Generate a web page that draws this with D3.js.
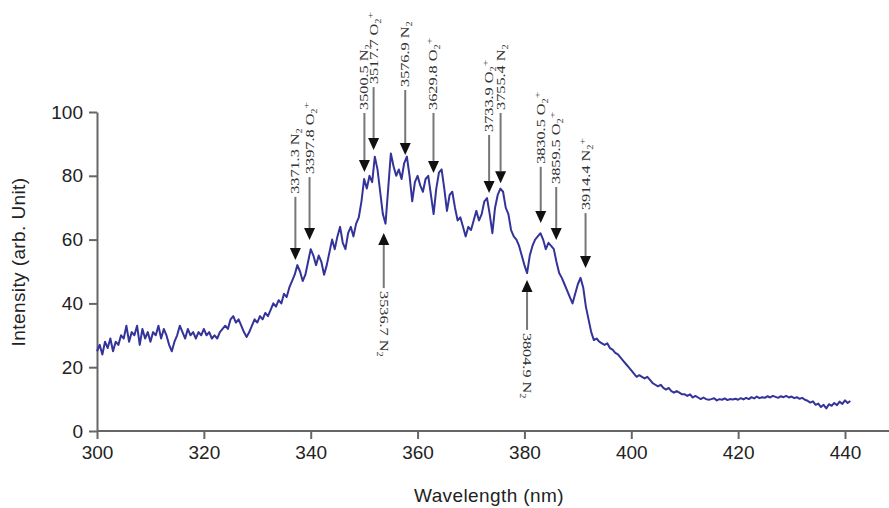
<!DOCTYPE html>
<html>
<head>
<meta charset="utf-8">
<script src="https://cdn.jsdelivr.net/npm/d3@7"></script>
<style>
  body { margin: 0; background: #fff; }
  .axis text { font-family: "Liberation Sans", Arial, sans-serif; font-size: 19px; fill: #222; }
  .axis line, .axis path { stroke: #666; stroke-width: 2; }
  .title { font-family: "Liberation Sans", Arial, sans-serif; font-size: 19px; fill: #222; letter-spacing: 0.4px; }
  .lbl { font-family: "Liberation Serif", "Times New Roman", serif; font-size: 12.5px; fill: #333; }
</style>
</head>
<body>
<div id="chart"></div>
<script>
// wavelength in nm, one value every 0.5 nm from 300 to 441
var wlStart = 300, wlStep = 0.5;
var intensity = [
  25, 27, 24, 28, 26, 29, 25, 28, 27, 30,
  29, 33, 28, 31, 30, 33, 27, 32, 29, 31,
  28, 31, 30, 33, 29, 32, 30, 27, 25, 28,
  30, 33, 31, 29, 32, 30, 31, 29, 31, 30,
  32, 30, 31, 29, 30, 29, 31, 32, 33, 32,
  35, 36, 34, 35, 33, 31, 29.5, 31, 33, 35,
  34, 36, 35, 37, 36, 38, 40, 39, 41, 40,
  43, 42, 45, 47, 49, 52, 50, 47, 49, 53,
  57, 55, 52, 55, 53, 49, 52, 56, 60, 57,
  61, 64, 59, 57, 62, 64, 61, 65, 67, 72,
  79, 76, 80, 78, 86, 82, 75, 68, 65, 76,
  87, 83, 80, 82, 79, 84, 86, 80, 72, 78,
  80, 77, 75, 79, 80, 74, 68, 76, 81, 82,
  76, 69, 74, 75, 70, 66, 67, 64, 61, 64,
  63, 66, 69, 66, 68, 72, 73, 68, 62, 70,
  74, 76, 75, 70, 68, 63, 61, 60, 58, 55,
  52, 49.5, 55, 58, 60, 61, 62, 60, 57, 59,
  58, 57, 53, 49.5, 48, 46, 44, 42, 40, 43,
  46, 48, 45, 39, 35, 31, 28.5, 29, 28, 27.5,
  27, 27.5, 26, 25.5, 24.5, 24, 23, 22, 21, 20,
  19, 18, 17, 17.5, 17, 16.5, 17, 16, 15, 14.5,
  14, 14.5, 13.5, 13, 13.5, 12.5, 12, 12.5, 12, 11.5,
  11.5, 11, 11.5, 10.5, 11, 10.5, 10, 10.5, 10, 9.8,
  10, 10.3, 9.6, 10, 9.8, 10.2, 9.7, 10, 9.9, 10.1,
  9.8, 10.3, 9.9, 10.4, 10, 10.6, 10.2, 10.8, 10.3, 10.6,
  10.4, 10.9, 10.5, 11, 10.7, 10.4, 10.9, 10.6, 11, 10.5,
  10.8, 10.3, 10.6, 10.1, 10.4, 9.8, 9.5, 8.9, 9.3, 8.2,
  8.6, 7.5, 8.2, 7.1, 8.4, 7.9, 8.8, 8.1, 9.2, 8.5,
  9.6, 8.8, 9.4
];
var xTicks = [300, 320, 340, 360, 380, 400, 420, 440];
var yTicks = [0, 20, 40, 60, 80, 100];

// line identifications: wavelength (Angstrom), species, arrow tip and tail (intensity)
var lineWl   = [3371.3, 3397.8, 3500.5, 3517.7, 3576.9, 3629.8, 3536.7, 3733.9, 3755.4, 3830.5, 3859.5, 3914.4, 3804.9];
var lineSp   = ["N2", "O2+", "N2", "O2+", "N2", "O2+", "N2", "O2+", "N2", "O2+", "O2+", "N2+", "N2"];
var lineTip  = [53.6, 59.9, 81.2, 88.1, 86.5, 80.9, 62.1, 74.6, 77.7, 65.2, 59.9, 51.1, 47.3];
var lineTail = [73.4, 79.6, 99.7, 107.8, 106.9, 99.7, 44.8, 92.8, 99.7, 82.8, 76.5, 68.3, 31.7];

var W = 889, H = 508;

var x = d3.scaleLinear().domain([300, 440]).range([97, 845]);
var y = d3.scaleLinear().domain([0, 100]).range([431, 112]);

var svg = d3.select("#chart").append("svg")
    .attr("width", W)
    .attr("height", H);

var data = intensity.map(function(v, i) {
  return {w: wlStart + i * wlStep, v: v};
});

// x axis
var gx = svg.append("g")
    .attr("class", "axis")
    .attr("transform", "translate(0," + y(0) + ")")
    .call(d3.axisBottom(x).tickValues(xTicks).tickSize(8).tickSizeOuter(0).tickPadding(7));
gx.select(".domain").remove();
gx.append("line")
    .attr("x1", x(300)).attr("x2", W)
    .attr("y1", 0).attr("y2", 0);

// y axis
var gy = svg.append("g")
    .attr("class", "axis")
    .attr("transform", "translate(" + x(300) + ",0)")
    .call(d3.axisLeft(y).tickValues(yTicks).tickSize(8).tickSizeOuter(0).tickPadding(6));

svg.append("text")
    .attr("class", "title")
    .attr("x", 489).attr("y", 502)
    .attr("text-anchor", "middle")
    .text("Wavelength (nm)");

svg.append("text")
    .attr("class", "title")
    .attr("transform", "translate(25," + y(53) + ") rotate(-90)")
    .attr("text-anchor", "middle")
    .text("Intensity (arb. Unit)");

// spectrum
var line = d3.line()
    .x(function(d) { return x(d.w); })
    .y(function(d) { return y(d.v); });

svg.append("path")
    .datum(data)
    .attr("fill", "none")
    .attr("stroke", "#33339a")
    .attr("stroke-width", 2)
    .attr("stroke-linejoin", "round")
    .attr("d", line);

// arrows + labels
lineWl.forEach(function(wl, i) {
  var px = x(wl / 10),
      tip = y(lineTip[i]),
      tail = y(lineTail[i]),
      down = lineTail[i] > lineTip[i],
      dir = down ? 1 : -1,
      head = 12;

  svg.append("line")
    .attr("x1", px).attr("x2", px)
    .attr("y1", tail).attr("y2", tip - dir * head)
    .attr("stroke", "#777")
    .attr("stroke-width", 2);

  svg.append("path")
    .attr("d", "M" + (px - 5.5) + "," + (tip - dir * head) +
               "L" + (px + 5.5) + "," + (tip - dir * head) +
               "L" + px + "," + tip + "Z")
    .attr("fill", "#111");

  var t = svg.append("text")
    .attr("class", "lbl")
    .attr("text-anchor", "start");
  if (down) {
    t.attr("transform", "translate(" + (px + 4) + "," + (tail - 3) + ") rotate(-90) scale(1.3,1)");
  } else {
    t.attr("transform", "translate(" + (px - 4) + "," + (tail + 3) + ") rotate(90) scale(1.3,1)");
  }

  var sp = lineSp[i];
  t.append("tspan").text(wl.toFixed(1) + " " + sp.charAt(0));
  t.append("tspan").attr("dy", 3).attr("font-size", "8px").text("2");
  if (sp.indexOf("+") >= 0) {
    t.append("tspan").attr("dy", -8).attr("font-size", "9px").text("+");
  }
});
</script>
</body>
</html>
